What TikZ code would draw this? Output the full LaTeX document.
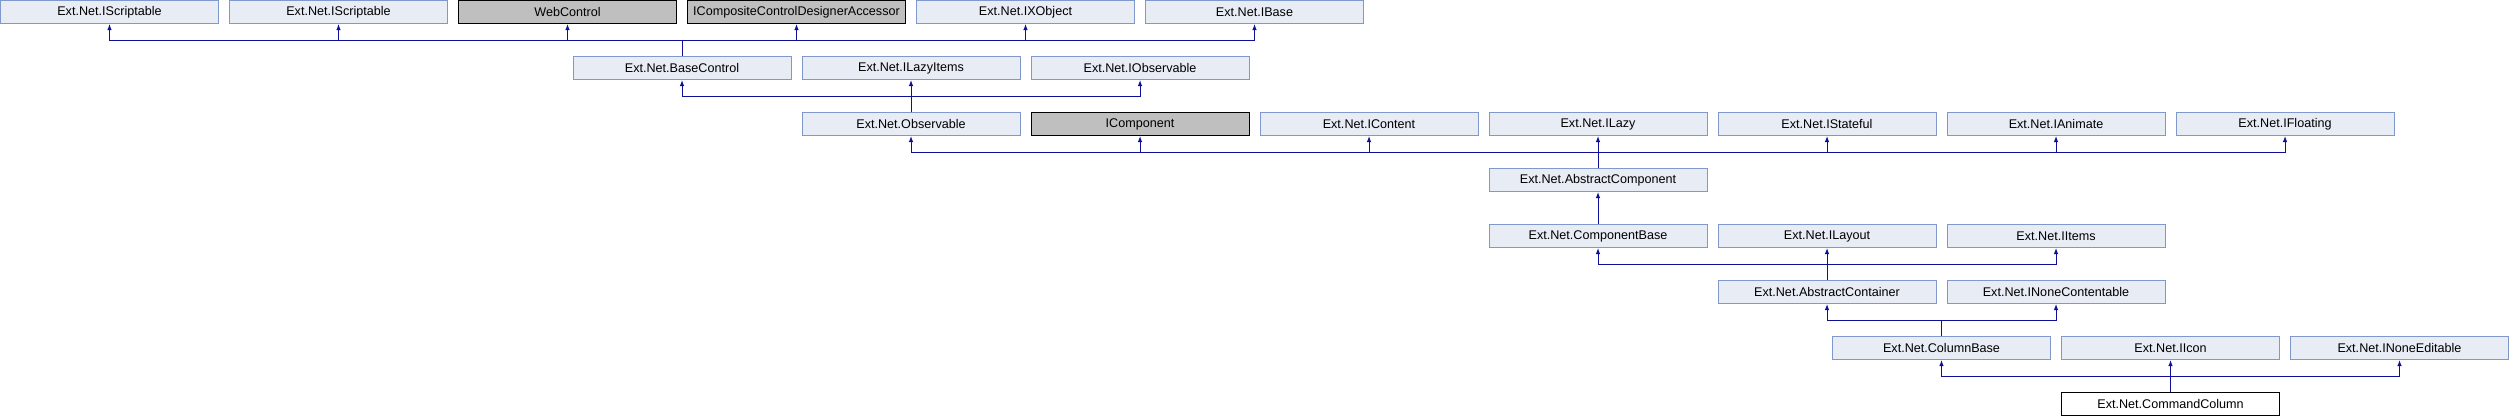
\documentclass[tikz,border=0pt]{standalone}
\usepackage{fontspec}
\setmainfont{Liberation Sans}
\usepackage{xcolor}
\definecolor{boxfill}{RGB}{232,236,245}
\definecolor{boxline}{RGB}{128,152,204}
\definecolor{grayfill}{RGB}{191,191,191}
\definecolor{edge}{RGB}{16,16,150}
\usetikzlibrary{arrows.meta}

\begin{document}
\begin{tikzpicture}[x=1pt, y=-1pt,
  cls/.style={draw=boxline, fill=boxfill, line width=1pt, anchor=north west, minimum width=218pt, minimum height=23pt, inner sep=0pt, font=\fontsize{12.6}{14}\selectfont},
  extcls/.style={cls, draw=black, fill=grayfill},
  selfcls/.style={cls, draw=black, fill=white},
  inh/.style={draw=edge, line width=1pt, -{Latex[length=6pt,width=4.5pt]}}]
\useasboundingbox (0,0) rectangle (2509,416);
% classes
\foreach \x/\y/\id/\txt in {0/0/iscrA/Ext.Net.IScriptable, 229/0/iscrB/Ext.Net.IScriptable, 916/0/ixobj/Ext.Net.IXObject, 1145/0/ibase/Ext.Net.IBase,
  572.5/56/basectl/Ext.Net.BaseControl, 801.5/56/ilazyitems/Ext.Net.ILazyItems, 1030.5/56/iobs/Ext.Net.IObservable,
  801.5/112/observable/Ext.Net.Observable, 1259.5/112/icontent/Ext.Net.IContent, 1488.5/112/ilazy/Ext.Net.ILazy, 1717.5/112/istateful/Ext.Net.IStateful, 1946.5/112/ianimate/Ext.Net.IAnimate, 2175.5/112/ifloating/Ext.Net.IFloating,
  1488.5/168/abscomp/Ext.Net.AbstractComponent,
  1488.5/224/compbase/Ext.Net.ComponentBase, 1717.5/224/ilayout/Ext.Net.ILayout, 1946.5/224/iitems/Ext.Net.IItems,
  1717.5/280/abscont/Ext.Net.AbstractContainer, 1946.5/280/inonecont/Ext.Net.INoneContentable,
  1832/336/colbase/Ext.Net.ColumnBase, 2061/336/iicon/Ext.Net.IIcon, 2290/336/inoneedit/Ext.Net.INoneEditable}{
\node[cls] (\id) at (\x,\y) {\txt};
}
\foreach \x/\y/\id/\txt in {458/0/webctl/WebControl, 687/0/iccda/ICompositeControlDesignerAccessor, 1030.5/112/icomp/IComponent}{
\node[extcls] (\id) at (\x,\y) {\txt};
}
\node[selfcls] (cmdcol) at (2061,392) {Ext.Net.CommandColumn};
% inheritance
\foreach \c/\p in {basectl/iscrA, basectl/iscrB, basectl/webctl, basectl/iccda, basectl/ixobj, basectl/ibase,
  observable/basectl, observable/ilazyitems, observable/iobs,
  abscomp/observable, abscomp/icomp, abscomp/icontent, abscomp/ilazy, abscomp/istateful, abscomp/ianimate, abscomp/ifloating,
  compbase/abscomp,
  abscont/compbase, abscont/ilayout, abscont/iitems,
  colbase/abscont, colbase/inonecont,
  cmdcol/colbase, cmdcol/iicon, cmdcol/inoneedit}{
\draw[inh] (\c.north) -- ++(0,-16) -| (\p.south);
}
\end{tikzpicture}
\end{document}
